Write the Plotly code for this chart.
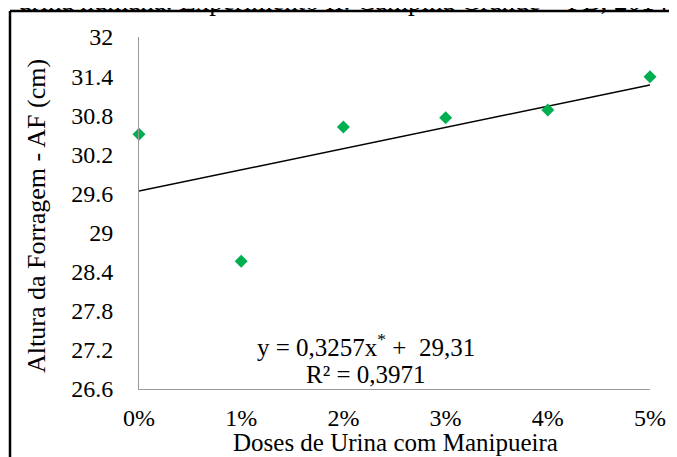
import plotly.graph_objects as go

# ---- data ----
dose_labels = ["0%", "1%", "2%", "3%", "4%", "5%"]
dose_index = [1, 2, 3, 4, 5, 6]
altura = [30.51, 28.56, 30.62, 30.76, 30.88, 31.39]
trend_slope = 0.3257
trend_intercept = 29.31
y_tick_vals = [26.6, 27.2, 27.8, 28.4, 29.0, 29.6, 30.2, 30.8, 31.4, 32.0]
y_tick_text = ["26.6", "27.2", "27.8", "28.4", "29", "29.6", "30.2", "30.8", "31.4", "32"]
x_title = "Doses de Urina com Manipueira"
y_title = "Altura da Forragem - AF (cm)"
eq_text = "y = 0,3257x<sup>*</sup> +\u00a0\u00a029,31"
r2_text = "R² = 0,3971"
caption = "urina humana. Experimento II. Campina Grande – PB, 2014."

FONT = "Liberation Serif"

# page body margin offset (8px) compensation; target plot box in screen px
OFF = 8
PX_L, PX_R, PX_T, PX_B = 139, 650, 37, 389
W, H = 677, 457


def px_x(x):
    return (x - PX_L) / (PX_R - PX_L)


def px_y(y):
    return (PX_B - y) / (PX_B - PX_T)


trend_x = [dose_index[0], dose_index[-1]]
trend_y = [trend_slope * x + trend_intercept for x in trend_x]

fig = go.Figure()
fig.add_trace(go.Scatter(
    x=trend_x, y=trend_y, mode="lines",
    line=dict(color="black", width=1.5), showlegend=False, hoverinfo="skip",
))
fig.add_trace(go.Scatter(
    x=dose_index, y=altura, mode="markers",
    marker=dict(symbol="diamond", size=10, color="#00b050", line=dict(width=0)),
    cliponaxis=False, showlegend=False,
))

fig.update_layout(
    template="none",
    width=W, height=H,
    margin=dict(l=PX_L - OFF, r=W - (PX_R - OFF), t=PX_T - OFF, b=H - (PX_B - OFF)),
    paper_bgcolor="white", plot_bgcolor="white",
    font=dict(family=FONT, color="black", size=24),
    showlegend=False,
    xaxis=dict(
        range=[1, 6], tickvals=dose_index, ticktext=dose_labels,
        showgrid=False, zeroline=False, showline=True, linecolor="#9a9a9a", linewidth=1,
        ticks="", tickfont=dict(size=24, family=FONT, color="black"), ticklabelstandoff=7,
        automargin=False,
    ),
    yaxis=dict(
        range=[26.6, 32], tickvals=y_tick_vals, ticktext=y_tick_text,
        showgrid=False, zeroline=False, showline=True, linecolor="#9a9a9a", linewidth=1,
        ticks="", tickfont=dict(size=24, family=FONT, color="black"), ticklabelstandoff=20,
        automargin=False,
    ),
    annotations=[
        dict(text=x_title, xref="paper", yref="paper", x=px_x(395), y=px_y(442),
             xanchor="center", yanchor="middle", showarrow=False,
             font=dict(size=25, family=FONT, color="black")),
        dict(text=y_title, xref="paper", yref="paper", x=px_x(36), y=px_y(216),
             xanchor="center", yanchor="middle", showarrow=False, textangle=-90,
             font=dict(size=26, family=FONT, color="black")),
        dict(text=eq_text, xref="paper", yref="paper", x=px_x(366), y=px_y(345),
             xanchor="center", yanchor="middle", showarrow=False,
             font=dict(size=25, family=FONT, color="black")),
        dict(text=r2_text, xref="paper", yref="paper", x=px_x(366), y=px_y(374),
             xanchor="center", yanchor="middle", showarrow=False,
             font=dict(size=25, family=FONT, color="black")),
        dict(text=caption, xref="paper", yref="paper", x=px_x(346), y=px_y(18),
             xanchor="center", yanchor="bottom", showarrow=False,
             font=dict(size=27, family=FONT, color="black")),
    ],
    shapes=[
        dict(type="line", xref="paper", yref="paper",
             x0=px_x(10), x1=px_x(10), y0=px_y(470), y1=px_y(11),
             line=dict(color="black", width=2.5)),
        dict(type="line", xref="paper", yref="paper",
             x0=px_x(10), x1=px_x(700), y0=px_y(11), y1=px_y(11),
             line=dict(color="black", width=2.5)),
    ],
)

fig.write_html("out.html")
